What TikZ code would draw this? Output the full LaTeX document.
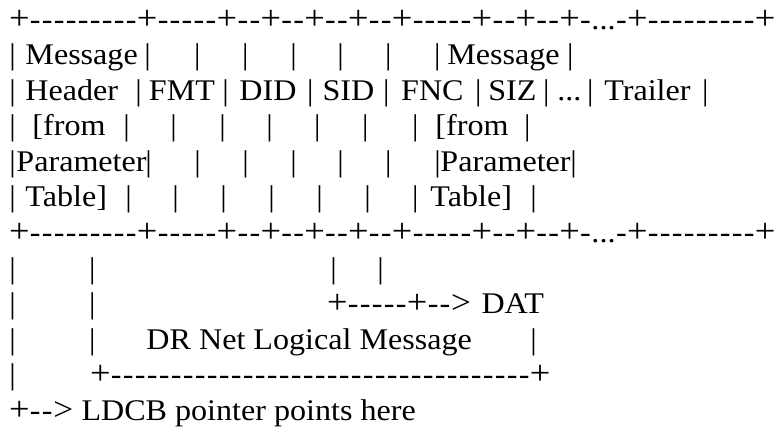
\documentclass[tikz,border=0pt]{standalone}
\usepackage{fontspec}
\setmainfont{Liberation Serif}[FakeStretch=1.07]

% place a glyph centred at x, or a text starting at x, without moving the line
\newcommand\putc[2]{\rlap{\hskip#1pt\makebox[0pt]{#2}}\ignorespaces}
\newcommand\putl[2]{\rlap{\hskip#1pt #2}\ignorespaces}
\newcommand\vb[1]{\putc{#1}{|}}
% fixed-width characters of the frame lines
\newcommand\plusc{\makebox[19.8pt]{\fontsize{34}{36}\selectfont +}}
\newcommand\dashc{\makebox[12pt]{-}}
\newcommand\dotc{\makebox[8pt]{.}}
\newcommand\arrowhd{\makebox[20pt]{\fontsize{33}{36}\selectfont >}}
\newcommand\dashes[1]{\foreach\i in {1,...,#1}{\dashc}}
\newcommand\frameline{\putl{9}{\plusc\dashes{9}\plusc\dashes{5}\plusc\dashes{2}\plusc\dashes{2}\plusc\dashes{2}\plusc\dashes{2}\plusc\dashes{5}\plusc\dashes{2}\plusc\dashes{2}\plusc\dashc\dotc\dotc\dotc\dashc\plusc\dashes{9}\plusc}}

\tikzset{
  row/.style={anchor=base west, inner sep=0pt, outer sep=0pt,
    font=\fontsize{30}{36}\selectfont, text=black}
}

\begin{document}
\begin{tikzpicture}[x=1pt,y=1pt]
\fill[white] (0,0) rectangle (775,-430);
\useasboundingbox (0,0) rectangle (775,-430);

% message layout table
\node[row] (r1) at (0,-29.5) {\frameline};
\node[row] (r2) at (0,-65) {\vb{12}\putl{25}{Message}\vb{147}\vb{197}\vb{245}\vb{293}\vb{340}\vb{388}\vb{437}\putl{447}{Message}\vb{570}};
\node[row] (r3) at (0,-100.5) {\vb{12}\putl{25}{Header}\vb{138}\putc{181.5}{FMT}\vb{225}\putc{267.5}{DID}\vb{310}\putc{348}{SID}\vb{386}\putc{432}{FNC}\vb{478}\putc{512}{SIZ}\vb{546}\putc{569}{\dotc\dotc\dotc}\vb{590}\putc{647}{Trailer}\vb{705}};
\node[row] (r4) at (0,-136) {\vb{12}\putl{32}{[from}\vb{126}\vb{173}\vb{222}\vb{269}\vb{317}\vb{365}\vb{415}\putl{435}{[from}\vb{527}};
\node[row] (r5) at (0,-171.5) {\vb{12}\putl{16}{Parameter}\vb{148}\vb{197}\vb{245}\vb{293}\vb{340}\vb{388}\vb{437}\putl{440}{Parameter}\vb{573}};
\node[row] (r6) at (0,-207) {\vb{12}\putl{25}{Table]}\vb{128}\vb{175}\vb{223}\vb{271}\vb{319}\vb{367}\vb{415}\putl{430}{Table]}\vb{533}};
\node[row] (r7) at (0,-242.5) {\frameline};

% pointers below the table
\node[row] (r8) at (0,-278) {\vb{12}\vb{92}\vb{333}\vb{380}};
\node[row] (r9) at (0,-313.5) {\vb{12}\vb{92}\putl{327}{\plusc\dashes{5}\plusc\dashes{2}\arrowhd}\putl{481}{DAT}};
\node[row] (r10) at (0,-349) {\vb{12}\vb{92}\putl{146}{DR Net Logical Message}\vb{533}};
\node[row] (r11) at (0,-384.5) {\vb{12}\putl{90}{\plusc\dashes{35}\plusc}};
\node[row] (r12) at (0,-420) {\putl{9}{\plusc\dashes{2}\arrowhd}\putl{81}{LDCB pointer points here}};
\end{tikzpicture}
\end{document}
